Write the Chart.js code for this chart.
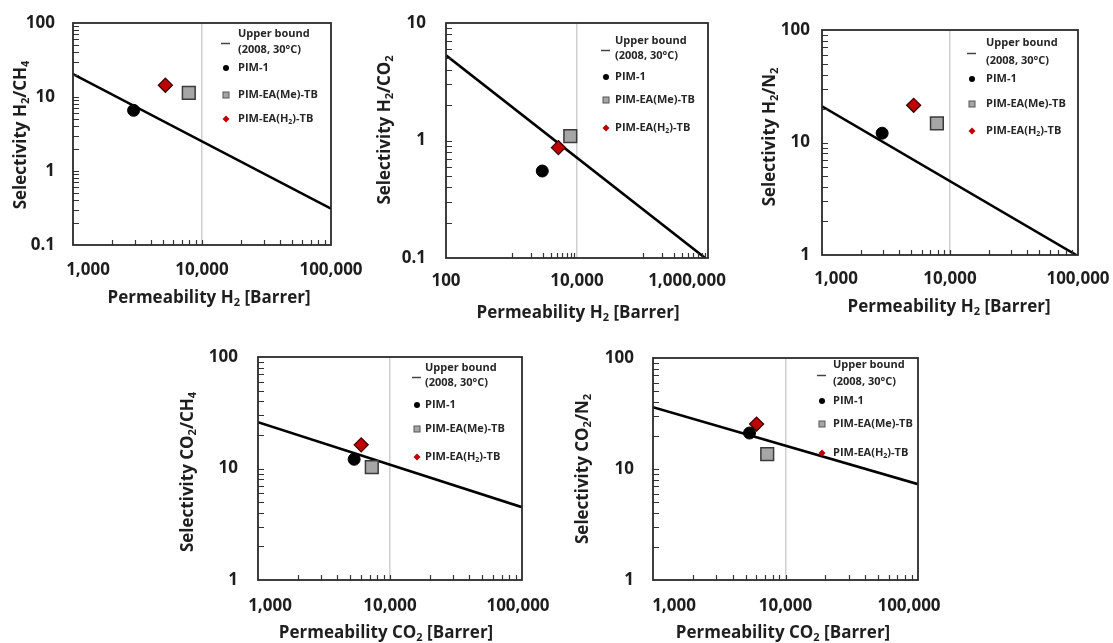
<!DOCTYPE html>
<html>
<head>
<meta charset="utf-8">
<script src="https://cdn.jsdelivr.net/npm/chart.js@4.4.1/dist/chart.umd.min.js"></script>
<style>
  html, body { margin: 0; padding: 0; background: #fff; }
  #wrap { position: relative; width: 1113px; height: 643px; overflow: hidden; background: #fff; }
  #wrap canvas { position: absolute; left: 0; top: 0; }
</style>
</head>
<body>
<div id="wrap">
  <canvas id="c1" width="1113" height="643"></canvas>
  <canvas id="c2" width="1113" height="643"></canvas>
  <canvas id="c3" width="1113" height="643"></canvas>
  <canvas id="c4" width="1113" height="643"></canvas>
  <canvas id="c5" width="1113" height="643"></canvas>
</div>
<script>
// Membranes, in legend order
const membranes = ['PIM-1', 'PIM-EA(Me)-TB', 'PIM-EA(H2)-TB'];
const boundLabel = ['Upper bound', '(2008, 30°C)'];

// Single-gas permeabilities [Barrer]
const permH2 = [2950, 7900, 5200];
const permCO2 = [5350, 7280, 6050];

// Ideal selectivities
const selH2CH4 = [6.6, 11.4, 14.4];
const selH2CO2 = [0.55, 1.09, 0.87];
const selH2N2 = [12.1, 14.8, 21.4];
const selCO2CH4 = [12.1, 10.3, 16.3];
const selCO2N2 = [21.1, 13.6, 25.4];

// 2008 upper bound end points: [permeability, selectivity]
const boundH2CH4 = [[1000, 20.4], [100000, 0.31]];
const boundH2CO2 = [[100, 5.3], [905000, 0.1]];
const boundH2N2 = [[1000, 21], [97000, 1]];
const boundCO2CH4 = [[1000, 26], [100000, 4.5]];
const boundCO2N2 = [[1000, 36], [100000, 7.3]];

// Axis tick values
const ticksPerm = [1000, 10000, 100000];
const ticksPermWide = [100, 10000, 1000000];
const ticksSel01to100 = [0.1, 1, 10, 100];
const ticksSel01to10 = [0.1, 1, 10];
const ticksSel1to100 = [1, 10, 100];

const FONT = '"Open Sans", "DejaVu Sans", sans-serif';
const TEXT = '#1e1e1e';

// Panel layout (pixel geometry only)
const panels = [
  { id: 'c1', perm: permH2, sel: selH2CH4, bound: boundH2CH4,
    xTicks: ticksPerm, yTicks: ticksSel01to100, grid: 10000,
    area: [73, 23, 331, 245], yPad: 18, xPad: 15, xShift: [15, 0, 0],
    yTitle: 'Selectivity H2/CH4', yTitlePos: [21, 135],
    xTitle: 'Permeability H2 [Barrer]', xTitlePos: [209, 298],
    minorX: [1000, 10000], minorY: [0.1, 1, 10],
    legRows: [11, 27, 45, 72, 96], legX: [105, 93] },
  { id: 'c2', perm: permH2, sel: selH2CO2, bound: boundH2CO2,
    xTicks: ticksPermWide, yTicks: ticksSel01to10, grid: 10000,
    area: [446, 23, 708, 258], yPad: 20, xPad: 13, xShift: [0, 0, -21],
    yTitle: 'Selectivity H2/CO2', yTitlePos: [385, 130],
    xTitle: 'Permeability H2 [Barrer]', xTitlePos: [578, 313],
    minorX: [1000, 100000], minorY: [0.1, 1],
    legRows: [18, 33, 54, 77, 105], legX: [102, 93] },
  { id: 'c3', perm: permH2, sel: selH2N2, bound: boundH2N2,
    xTicks: ticksPerm, yTicks: ticksSel1to100, grid: 10000,
    area: [822, 30, 1078, 255], yPad: 12, xPad: 14, xShift: [14, 0, 0],
    yTitle: 'Selectivity H2/N2', yTitlePos: [770, 137],
    xTitle: 'Permeability H2 [Barrer]', xTitlePos: [949, 307],
    minorX: [1000, 10000], minorY: [1, 10],
    legRows: [13, 31, 49, 74, 101], legX: [106, 92] },
  { id: 'c4', perm: permCO2, sel: selCO2CH4, bound: boundCO2CH4,
    xTicks: ticksPerm, yTicks: ticksSel1to100, grid: 10000,
    area: [258, 357, 522, 580], yPad: 20, xPad: 16, xShift: [12, 0, -4],
    yTitle: 'Selectivity CO2/CH4', yTitlePos: [188, 472],
    xTitle: 'Permeability CO2 [Barrer]', xTitlePos: [386, 633],
    minorX: [1000, 10000], minorY: [1, 10],
    legRows: [11, 26, 48, 72, 100], legX: [105, 97] },
  { id: 'c5', perm: permCO2, sel: selCO2N2, bound: boundCO2N2,
    xTicks: ticksPerm, yTicks: ticksSel1to100, grid: 10000,
    area: [653, 358, 918, 580], yPad: 19, xPad: 16, xShift: [21, 0, -9],
    yTitle: 'Selectivity CO2/N2', yTitlePos: [583, 469],
    xTitle: 'Permeability CO2 [Barrer]', xTitlePos: [783, 633],
    minorX: [1000, 10000], minorY: [1, 10],
    legRows: [7, 24, 43, 66, 95], legX: [96, 85] }
];

const Y_AXIS_W = 60, X_AXIS_H = 40;

// Chemical formulas: digits right after a capital letter are subscripts
function richParts(s) {
  return s.split(/(?<=[A-Z])(\d+)/).map((t, i) => ({ t, sub: i % 2 === 1 })).filter(p => p.t);
}

function drawRich(ctx, str, x, y, size, align, rotate, color) {
  const parts = richParts(str);
  const main = `bold ${size}px ${FONT}`;
  const subSize = Math.round(size * 0.66);
  const sub = `bold ${subSize}px ${FONT}`;
  let total = 0;
  parts.forEach(p => { ctx.font = p.sub ? sub : main; p.w = ctx.measureText(p.t).width; total += p.w; });
  ctx.save();
  ctx.translate(x, y);
  if (rotate) ctx.rotate(-Math.PI / 2);
  ctx.fillStyle = color;
  ctx.textBaseline = 'middle';
  ctx.textAlign = 'left';
  let cx = align === 'center' ? -total / 2 : 0;
  parts.forEach(p => {
    ctx.font = p.sub ? sub : main;
    ctx.fillText(p.t, cx, p.sub ? size * 0.3 : 0);
    cx += p.w;
  });
  ctx.restore();
}

function fmtTick(v) {
  return v >= 1 ? Number(v).toLocaleString('en-US') : String(v);
}

const panelDecor = {
  id: 'panelDecor',
  beforeDraw(chart) {
    const p = chart.options.plugins.panelDecor.panel;
    const sx = chart.scales.x;
    if (typeof sx.getLabelItems === 'function') {
      const items = sx.getLabelItems();
      if (!items._shifted) {
        items.forEach((it, i) => { it.options.translation[0] += (p.xShift[i] || 0); });
        items._shifted = true;
      }
    }
  },
  afterDraw(chart) {
    const p = chart.options.plugins.panelDecor.panel;
    const ctx = chart.ctx, a = chart.chartArea;
    const sx = chart.scales.x, sy = chart.scales.y;

    // inward minor tick marks
    ctx.save();
    ctx.strokeStyle = '#333';
    ctx.lineWidth = 1.2;
    ctx.beginPath();
    p.minorX.forEach(d => {
      for (let k = 1; k <= 9; k++) {
        const v = d * k;
        if (v <= sx.min * 1.0001 || v >= sx.max * 0.9999) continue;
        const px = Math.round(sx.getPixelForValue(v)) + 0.5;
        ctx.moveTo(px, a.bottom);
        ctx.lineTo(px, a.bottom - 5);
      }
    });
    p.minorY.forEach(d => {
      for (let k = 1; k <= 9; k++) {
        const v = d * k;
        if (v <= sy.min * 1.0001 || v >= sy.max * 0.9999) continue;
        const py = Math.round(sy.getPixelForValue(v)) + 0.5;
        ctx.moveTo(a.left, py);
        ctx.lineTo(a.left + 6, py);
      }
    });
    ctx.stroke();

    // plot frame
    ctx.strokeStyle = '#2b2b2b';
    ctx.lineWidth = 1.8;
    ctx.strokeRect(a.left, a.top, a.right - a.left, a.bottom - a.top);
    ctx.restore();

    // axis titles
    drawRich(ctx, p.yTitle, p.yTitlePos[0], p.yTitlePos[1], 17, 'center', true, TEXT);
    drawRich(ctx, p.xTitle, p.xTitlePos[0], p.xTitlePos[1], 17, 'center', false, TEXT);

    // legend inside the plot, top right
    const mx = a.right - p.legX[0], tx = a.right - p.legX[1];
    const rows = p.legRows.map(r => a.top + r);
    const ds = chart.data.datasets;
    ctx.save();
    drawRich(ctx, boundLabel[0], tx, rows[0], 11, 'left', false, '#262626');
    drawRich(ctx, boundLabel[1], tx, rows[1], 11, 'left', false, '#262626');
    const ly = Math.round((rows[0] + rows[1]) / 2) + 1.5;
    ctx.strokeStyle = '#444';
    ctx.lineWidth = 1.5;
    ctx.beginPath();
    ctx.moveTo(mx - 5, ly);
    ctx.lineTo(mx + 4, ly);
    ctx.stroke();
    // PIM-1
    ctx.fillStyle = ds[0].backgroundColor;
    ctx.beginPath();
    ctx.arc(mx, rows[2], 3, 0, Math.PI * 2);
    ctx.fill();
    // PIM-EA(Me)-TB
    ctx.fillStyle = ds[1].backgroundColor;
    ctx.strokeStyle = '#555';
    ctx.lineWidth = 1;
    ctx.fillRect(mx - 3, rows[3] - 3, 6, 6);
    ctx.strokeRect(mx - 3, rows[3] - 3, 6, 6);
    // PIM-EA(H2)-TB
    ctx.fillStyle = ds[2].backgroundColor;
    ctx.beginPath();
    ctx.moveTo(mx, rows[4] - 3.5);
    ctx.lineTo(mx + 3.5, rows[4]);
    ctx.lineTo(mx, rows[4] + 3.5);
    ctx.lineTo(mx - 3.5, rows[4]);
    ctx.closePath();
    ctx.fill();
    ctx.restore();
    membranes.forEach((m, i) => drawRich(ctx, m, tx, rows[2 + i], 11, 'left', false, '#262626'));
  }
};

function makeChart(p) {
  const [L, T, R, B] = p.area;
  const W = 1113, H = 643;
  const pt = i => [{ x: p.perm[i], y: p.sel[i] }];
  return new Chart(document.getElementById(p.id), {
    type: 'scatter',
    data: {
      datasets: [
        { label: membranes[0], data: pt(0), pointStyle: 'circle', pointRadius: 6,
          backgroundColor: '#000000', borderColor: '#000000', borderWidth: 1 },
        { label: membranes[1], data: pt(1), pointStyle: 'rect', pointRadius: 9,
          backgroundColor: '#a6a6a6', borderColor: '#3a3a3a', borderWidth: 1.5 },
        { label: membranes[2], data: pt(2), pointStyle: 'rectRot', pointRadius: 7,
          backgroundColor: '#c00000', borderColor: '#3d0000', borderWidth: 1.3 },
        { label: boundLabel.join(' '), data: p.bound.map(([x, y]) => ({ x, y })),
          showLine: true, pointRadius: 0, borderColor: '#000000', borderWidth: 2.6,
          fill: false, tension: 0 }
      ]
    },
    options: {
      responsive: false,
      animation: false,
      events: [],
      layout: { padding: { left: L - Y_AXIS_W, top: T, right: W - R, bottom: H - B - X_AXIS_H } },
      plugins: {
        legend: { display: false },
        tooltip: { enabled: false },
        panelDecor: { panel: p }
      },
      scales: {
        x: {
          type: 'logarithmic', position: 'bottom',
          min: p.xTicks[0], max: p.xTicks[p.xTicks.length - 1],
          afterBuildTicks: s => { s.ticks = p.xTicks.map(v => ({ value: v })); },
          afterFit: s => { s.height = X_AXIS_H; s.paddingLeft = 0; s.paddingRight = 0; },
          border: { display: false },
          grid: {
            drawTicks: false, lineWidth: 1.5,
            color: c => (c.tick && c.tick.value === p.grid) ? '#cfcfcf' : 'rgba(0,0,0,0)'
          },
          ticks: {
            autoSkip: false, maxRotation: 0, minRotation: 0, padding: p.xPad, color: TEXT,
            font: { family: FONT, size: 17, weight: 'bold' },
            callback: v => fmtTick(v)
          }
        },
        y: {
          type: 'logarithmic', position: 'left',
          min: p.yTicks[0], max: p.yTicks[p.yTicks.length - 1],
          afterBuildTicks: s => { s.ticks = p.yTicks.map(v => ({ value: v })); },
          afterFit: s => { s.width = Y_AXIS_W; s.paddingTop = 0; s.paddingBottom = 0; },
          border: { display: false },
          grid: { display: false, drawTicks: false },
          ticks: {
            autoSkip: false, padding: p.yPad, color: TEXT,
            font: { family: FONT, size: 17, weight: 'bold' },
            callback: v => fmtTick(v)
          }
        }
      }
    },
    plugins: [panelDecor]
  });
}

panels.forEach(makeChart);
</script>
</body>
</html>
